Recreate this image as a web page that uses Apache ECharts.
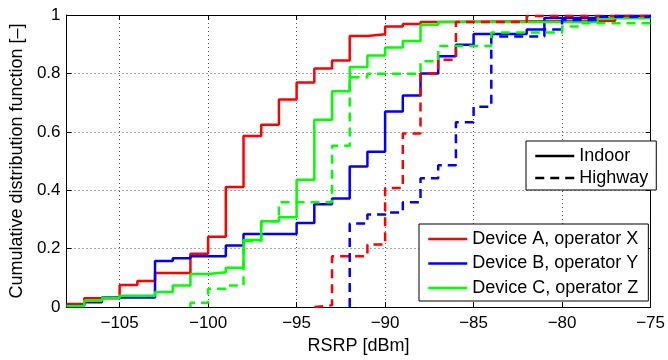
<!DOCTYPE html>
<html>
<head>
<meta charset="utf-8">
<script src="https://cdn.jsdelivr.net/npm/echarts@6/dist/echarts.min.js"></script>
<style>
  html, body { margin: 0; padding: 0; background: #fff; }
  #cdf { width: 668px; height: 360px; }
</style>
</head>
<body>
<div id="cdf"></div>
<script>
// step edges (dBm) and CDF value from that edge onward
const indoorAX = [-108, -107, -105, -104, -103, -101, -100, -99, -98, -97, -96, -95, -94, -93, -92, -91, -90, -89, -88, -87, -77, -75]
const indoorAY = [0.011, 0.03, 0.076, 0.089, 0.117, 0.183, 0.241, 0.411, 0.586, 0.624, 0.711, 0.769, 0.817, 0.844, 0.928, 0.934, 0.961, 0.969, 0.976, 0.98, 0.991, 0.991]

const indoorBX = [-108, -107, -106, -103, -102, -101, -99, -98, -95, -94, -93, -92, -91, -90, -89, -88, -87, -86, -85, -82, -81, -77, -75]
const indoorBY = [0.005, 0.017, 0.033, 0.158, 0.167, 0.174, 0.211, 0.25, 0.288, 0.352, 0.372, 0.481, 0.532, 0.67, 0.724, 0.8, 0.859, 0.898, 0.935, 0.95, 0.99, 0.997, 0.997]

const indoorCX = [-108, -107, -106, -105, -103, -102, -101, -100, -99, -98, -97, -96, -95, -94, -93, -92, -91, -90, -89, -88, -87, -78, -75]
const indoorCY = [0.004, 0.022, 0.031, 0.039, 0.052, 0.074, 0.113, 0.119, 0.135, 0.23, 0.294, 0.308, 0.436, 0.641, 0.739, 0.822, 0.861, 0.889, 0.911, 0.967, 0.976, 0.989, 0.989]

const highwayAX = [-94, -94, -93, -91, -90, -89, -88, -87, -86, -82, -75]
const highwayAY = [0, 0.006, 0.174, 0.214, 0.408, 0.594, 0.8, 0.847, 0.976, 0.997, 0.997]

const highwayBX = [-92, -92, -91, -90, -89, -88, -87, -86, -85, -84, -81, -80, -78, -75]
const highwayBY = [0, 0.286, 0.317, 0.324, 0.359, 0.441, 0.486, 0.633, 0.686, 0.926, 0.95, 0.983, 0.994, 0.994]

const highwayCX = [-101, -101, -100, -99, -98, -97, -96, -93, -92, -91, -88, -87, -84, -80, -79, -75]
const highwayCY = [0, 0.015, 0.063, 0.074, 0.226, 0.294, 0.359, 0.552, 0.787, 0.799, 0.842, 0.894, 0.94, 0.961, 0.972, 0.972]

const deviceNames = ['Device A, operator X', 'Device B, operator Y', 'Device C, operator Z']
const deviceColors = ['#ff0000', '#0000ff', '#00ff00']
const envNames = ['Indoor', 'Highway']

const font = 'Liberation Sans, Arial, Helvetica, sans-serif'

function pairs(xs, ys) {
  return xs.map((x, i) => [x, ys[i]])
}

function stepLine(name, color, xs, ys, dashed) {
  return {
    name: name,
    type: 'line',
    step: 'end',
    symbol: 'none',
    data: pairs(xs, ys),
    color: color,
    lineStyle: { width: 2.5, color: color, type: dashed ? [9, 6] : 'solid' },
    emphasis: { disabled: true },
    clip: true
  }
}

var myChart = echarts.init(document.getElementById('cdf'))

let series = [
  stepLine(deviceNames[0], deviceColors[0], indoorAX, indoorAY, false),
  stepLine(deviceNames[1], deviceColors[1], indoorBX, indoorBY, false),
  stepLine(deviceNames[2], deviceColors[2], indoorCX, indoorCY, false),
  stepLine(deviceNames[0], deviceColors[0], highwayAX, highwayAY, true),
  stepLine(deviceNames[1], deviceColors[1], highwayBX, highwayBY, true),
  stepLine(deviceNames[2], deviceColors[2], highwayCX, highwayCY, true),
  // black dummies only for the line-style legend
  stepLine(envNames[0], '#000', [], [], false),
  stepLine(envNames[1], '#000', [], [], true)
]

const gridLine = { show: true, lineStyle: { color: '#555', width: 1, type: [1, 3] } }
const boxLine = { show: true, onZero: false, lineStyle: { color: '#000', width: 1 } }
const innerTick = { show: true, inside: true, length: 5, lineStyle: { color: '#000' } }

function minusLabel(v) {
  if (v % 5 !== 0) return ''
  return v < 0 ? '\u2212' + Math.abs(v) : String(v)
}

// shared look of both legend boxes, no marker on the line
const legendBase = {
  orient: 'vertical',
  itemWidth: 39,
  itemHeight: 14,
  selectedMode: false,
  backgroundColor: '#fff',
  borderColor: '#000',
  borderWidth: 1,
  borderRadius: 0,
  itemStyle: { opacity: 0 },
  lineStyle: { width: 2.5 },
  textStyle: { color: '#000', fontSize: 18, lineHeight: 20, fontFamily: font }
}

let option = {
  animation: false,
  backgroundColor: '#fff',
  textStyle: { fontFamily: font },
  grid: { left: 66, right: 9, top: 15, bottom: 45 },
  legend: [
    Object.assign({}, legendBase, {
      data: envNames,
      left: 526,
      top: 141,
      padding: [5, 8, 2, 8],
      itemGap: 2
    }),
    Object.assign({}, legendBase, {
      data: deviceNames,
      left: 419,
      top: 224,
      padding: [5, 10, 3, 8],
      itemGap: 4.5
    })
  ],
  xAxis: [
    {
      type: 'value',
      min: -108,
      max: -75,
      splitNumber: 7,
      name: 'RSRP [dBm]',
      nameLocation: 'middle',
      nameGap: 28,
      nameTextStyle: { color: '#000', fontSize: 18, fontFamily: font },
      axisLine: boxLine,
      axisTick: innerTick,
      axisLabel: { color: '#000', fontSize: 17, margin: 8, fontFamily: font, formatter: minusLabel },
      splitLine: gridLine
    },
    {
      type: 'value',
      position: 'top',
      min: -108,
      max: -75,
      splitNumber: 7,
      axisLine: boxLine,
      axisTick: innerTick,
      axisLabel: { show: false },
      splitLine: { show: false }
    }
  ],
  yAxis: [
    {
      type: 'value',
      min: 0,
      max: 1,
      interval: 0.2,
      name: 'Cumulative distribution function [\u2013]',
      nameLocation: 'middle',
      nameGap: 34,
      nameTextStyle: { color: '#000', fontSize: 18, fontFamily: font },
      axisLine: boxLine,
      axisTick: innerTick,
      axisLabel: { color: '#000', fontSize: 17, margin: 6, fontFamily: font },
      splitLine: gridLine
    },
    {
      type: 'value',
      position: 'right',
      min: 0,
      max: 1,
      interval: 0.2,
      axisLine: boxLine,
      axisTick: innerTick,
      axisLabel: { show: false },
      splitLine: { show: false }
    }
  ],
  series: series
}

myChart.setOption(option)
window.onresize = function () {
  myChart.resize()
}
</script>
</body>
</html>
